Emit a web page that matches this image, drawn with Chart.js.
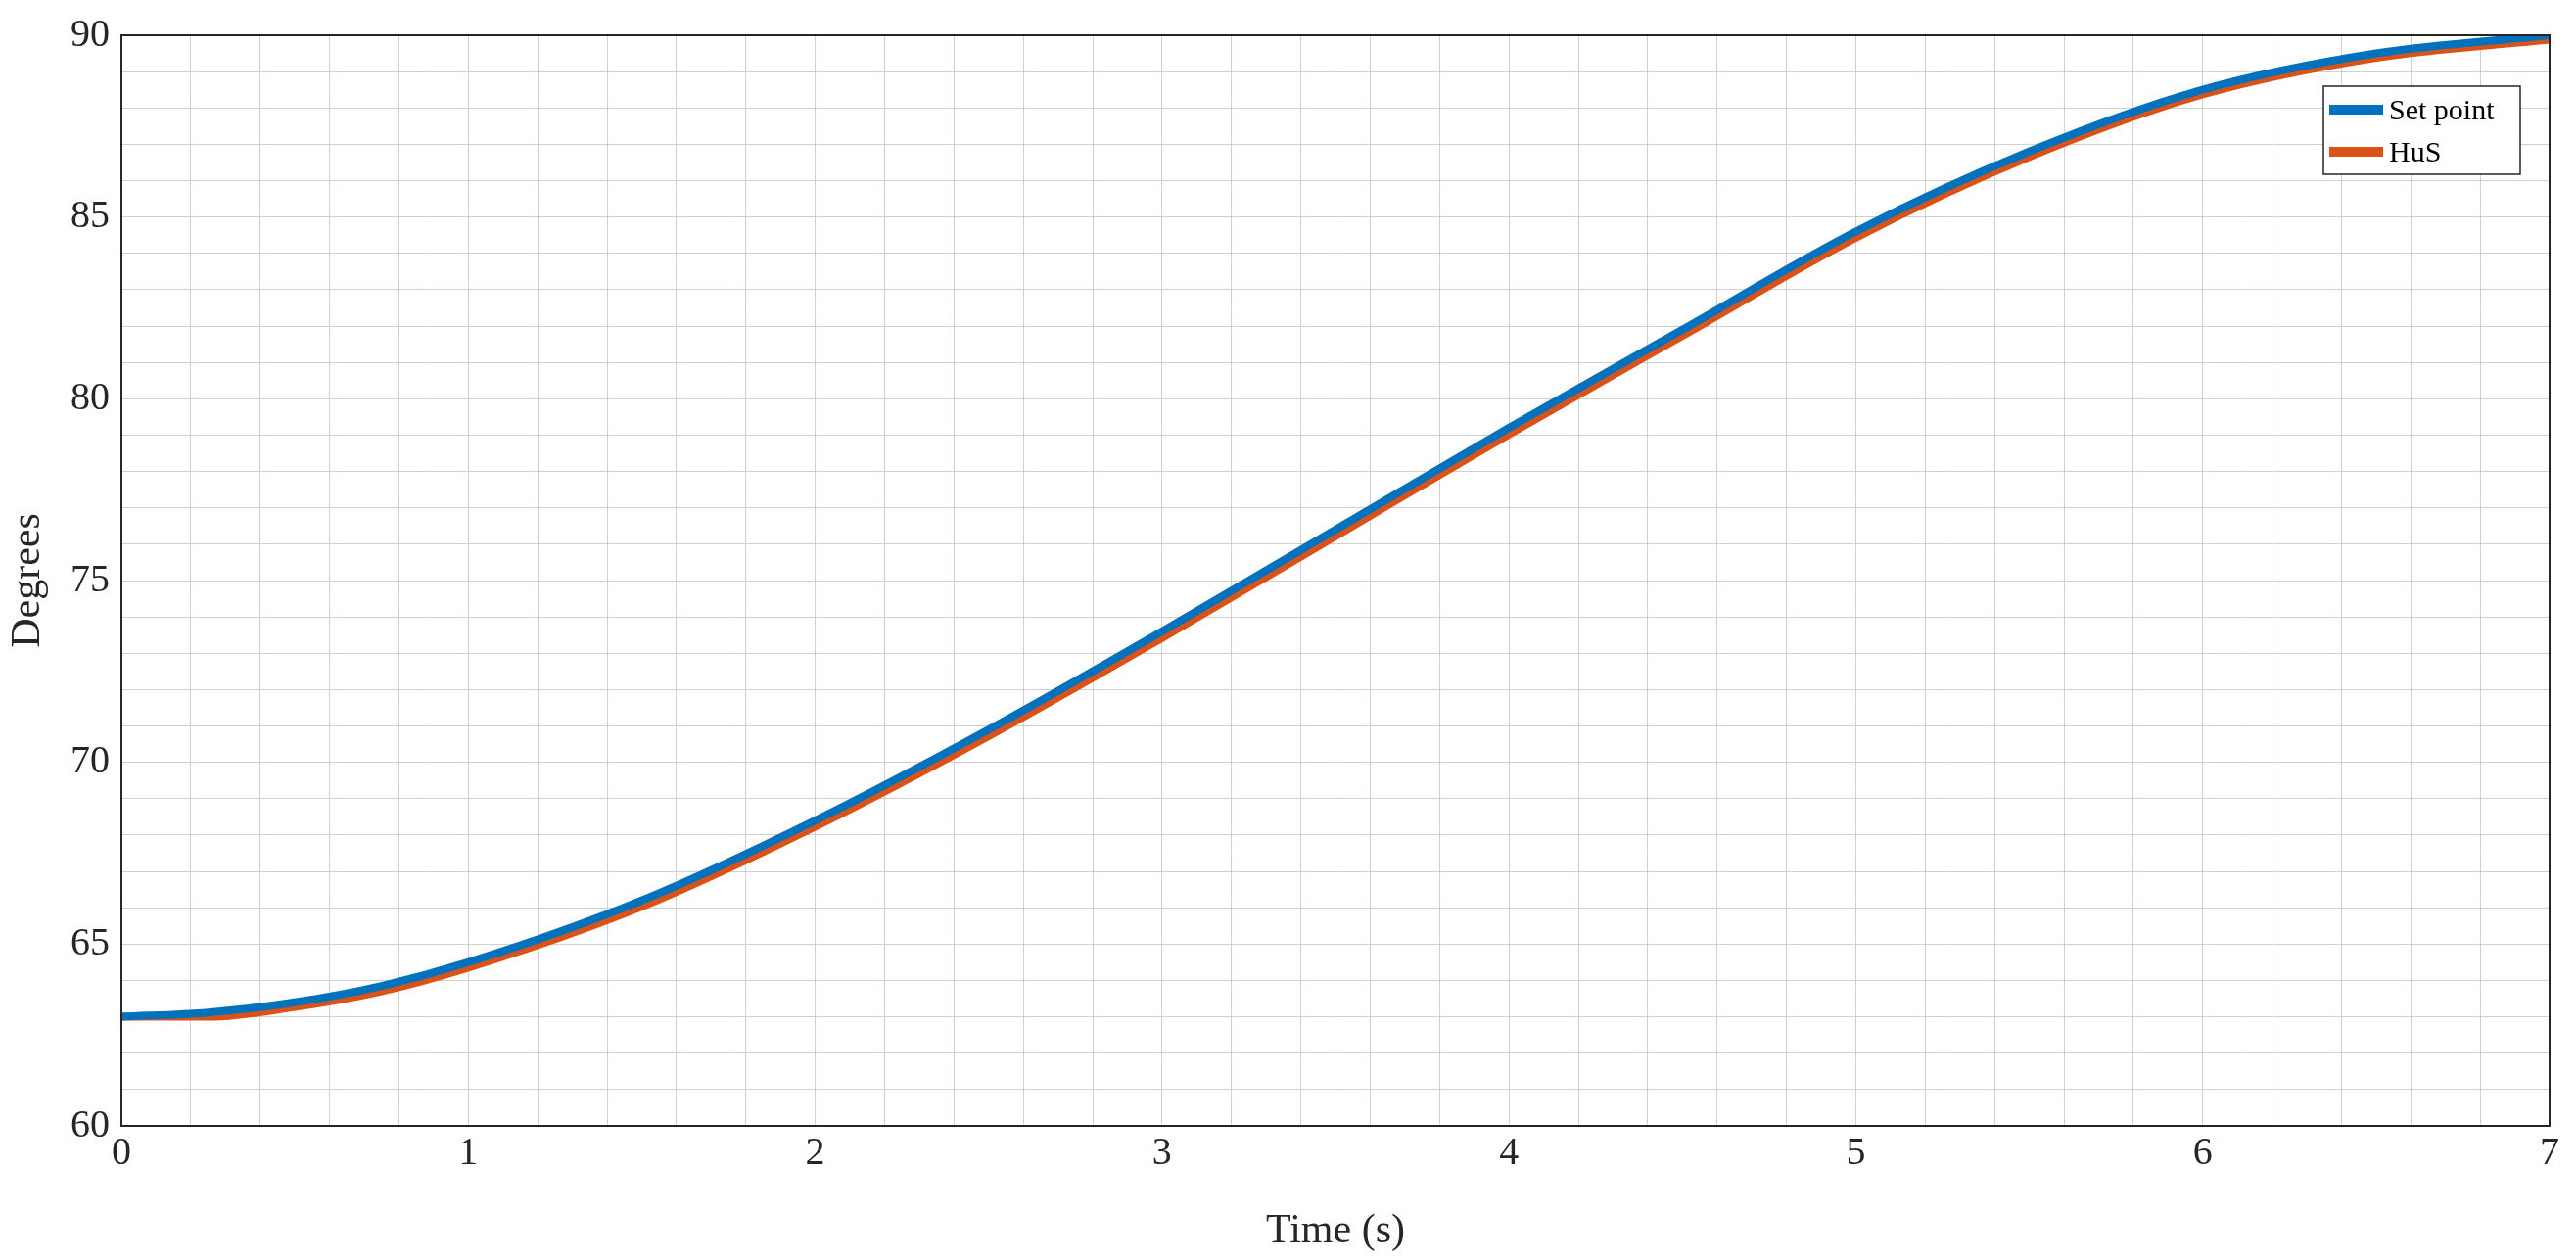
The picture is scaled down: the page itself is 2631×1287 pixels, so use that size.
<!DOCTYPE html><html><head><style>html,body{margin:0;background:#fff}#w{width:2631px;height:1287px}</style>
<script src="https://cdn.jsdelivr.net/npm/chart.js@4"></script></head><body><div id="w"><canvas id="c"></canvas></div><script>
const timeS=[0,0.25,0.5,0.75,1,1.5,2,2.5,3,3.5,4,4.5,5,5.5,6,6.5,7];
const setPoint=[63,63.12,63.4,63.85,64.5,66.2,68.4,70.9,73.6,76.4,79.2,81.9,84.6,86.8,88.5,89.5,90];
const hus=[63,63.0,63.27,63.7,64.35,66.03,68.23,70.72,73.42,76.22,79.02,81.73,84.43,86.65,88.37,89.38,89.88];
const xTicks=[0,1,2,3,4,5,6,7], yTicks=[60,65,70,75,80,85,90];
const F="'Liberation Serif','DejaVu Serif',serif";
const pts=a=>timeS.map((t,i)=>({x:t,y:a[i]}));
new Chart(document.getElementById('c'),{type:'line',data:{datasets:[
{label:'Set point',data:pts(setPoint),borderColor:'#0072BD',backgroundColor:'#0072BD',borderWidth:8,pointRadius:0,cubicInterpolationMode:'monotone'},
{label:'HuS',data:pts(hus),borderColor:'#D95319',backgroundColor:'#D95319',borderWidth:8,pointRadius:0,cubicInterpolationMode:'monotone'}]},
options:{responsive:true,maintainAspectRatio:false,animation:false,layout:{padding:{top:28,right:27,left:0,bottom:0}},
plugins:{legend:{display:false},tooltip:{enabled:false}},
scales:{x:{type:'linear',min:0,max:7,afterBuildTicks:s=>{s.ticks=[];for(let i=0;i<=35;i++)s.ticks.push({value:i/5});},
 afterFit:s=>{s.height=137},
 ticks:{autoSkip:false,maxRotation:0,color:'#262626',font:{family:F,size:40},padding:4,callback:v=>Math.abs(v-Math.round(v))<1e-6?String(Math.round(v)):''},
 grid:{color:'#d0d0d0',borderDash:[6,6],drawTicks:false},border:{display:true,color:'#262626',width:2},
 title:{display:true,text:'Time (s)',font:{family:F,size:42},color:'#262626',padding:{top:4}}},
y:{min:60,max:90,afterBuildTicks:s=>{s.ticks=[];for(let v=60;v<=90;v++)s.ticks.push({value:v});},
 afterFit:s=>{s.width=124},
 ticks:{autoSkip:false,color:'#262626',font:{family:F,size:40},padding:12,callback:v=>v%5===0?String(v):''},
 grid:{color:'#d0d0d0',borderDash:[6,6],drawTicks:false},border:{display:true,color:'#262626',width:2},
 title:{display:true,text:'Degrees',font:{family:F,size:42},color:'#262626',padding:{bottom:4}}}}},
plugins:[{id:'frame',afterDraw(c){const a=c.chartArea,x=c.ctx;x.save();x.strokeStyle='#262626';x.lineWidth=2;x.strokeRect(a.left,a.top,a.right-a.left,a.bottom-a.top);
const L=2373,T=88,W=201,H=90;x.fillStyle='#fff';x.fillRect(L,T,W,H);x.lineWidth=1.5;x.strokeRect(L,T,W,H);
const ds=c.data.datasets;x.font="30px "+F;x.textBaseline='middle';
ds.forEach((d,i)=>{const yy=T+24+i*43;x.fillStyle=d.borderColor;x.fillRect(L+6,yy-5,55,10);x.fillStyle='#000';x.fillText(d.label,L+67,yy+2);});x.restore();}}]});
</script></body></html>
